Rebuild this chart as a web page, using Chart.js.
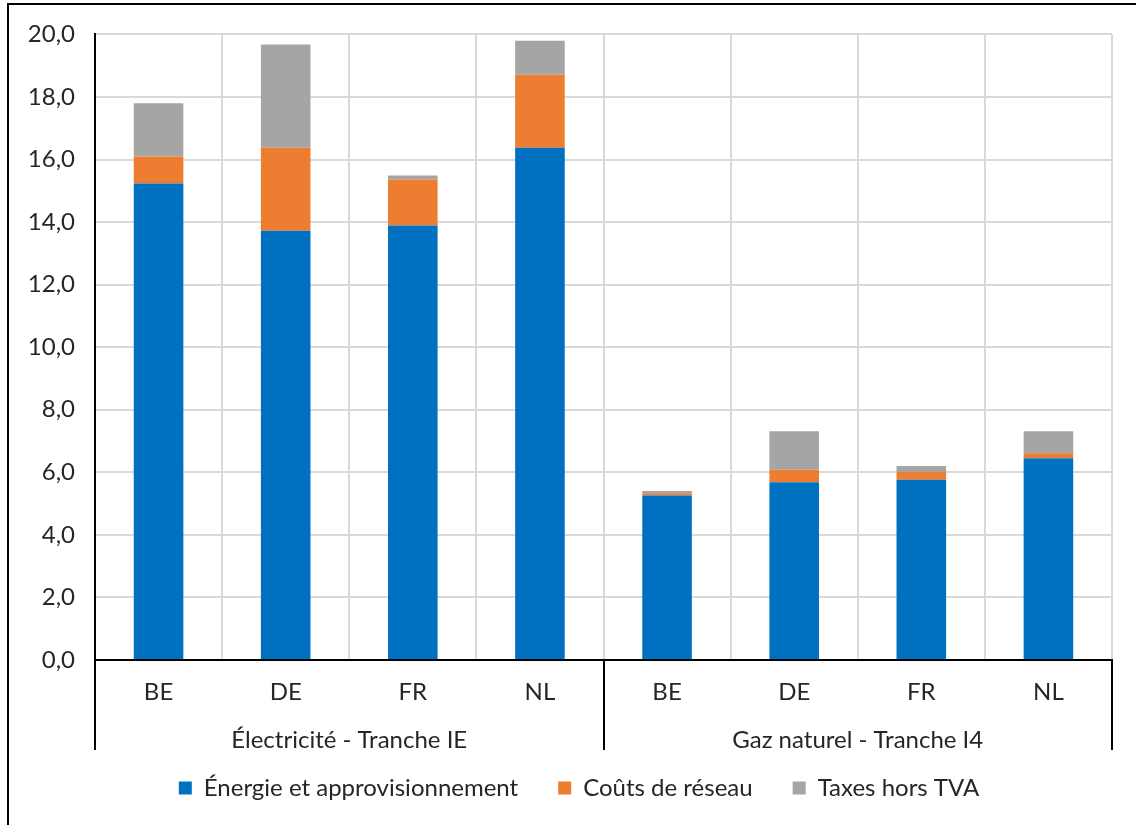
<!DOCTYPE html>
<html lang="fr">
<head>
<meta charset="utf-8">
<title>Composantes du prix – électricité et gaz naturel</title>
<script src="https://cdn.jsdelivr.net/npm/chart.js@4"></script>
<style>
  html, body { margin: 0; padding: 0; background: #fff; }
  #wrap { position: relative; width: 1136px; height: 825px; }
</style>
</head>
<body>
<div id="wrap"><canvas id="c" width="1136" height="825"></canvas></div>
<script>
// Pays par catégorie, et groupes de produits (4 pays chacun)
const countries = ['BE', 'DE', 'FR', 'NL', 'BE', 'DE', 'FR', 'NL'];
const groups = ['Électricité - Tranche IE', 'Gaz naturel - Tranche I4'];
const groupSizes = [4, 4];

// Composantes du prix (empilées)
const energie = [15.23, 13.72, 13.89, 16.38, 5.26, 5.68, 5.76, 6.45];
const reseau  = [0.87, 2.66, 1.47, 2.33, 0.07, 0.40, 0.25, 0.16];
const taxes   = [1.70, 3.30, 0.13, 1.09, 0.07, 1.23, 0.19, 0.70];

const seriesNames = ['Énergie et approvisionnement', 'Coûts de réseau', 'Taxes hors TVA'];
const seriesColors = ['#0070c0', '#ed7d31', '#a5a5a5'];

const FONT = 'Lato, "Open Sans", sans-serif';
const FONT_SIZE = 24;
const TEXT = '#262626';
const GRID = '#d9d9d9';

// Cadre extérieur (haut et gauche) du graphique
const framePlugin = {
  id: 'frame',
  beforeDraw(chart) {
    const ctx = chart.ctx;
    ctx.save();
    ctx.strokeStyle = '#000';
    ctx.lineWidth = 2;
    ctx.beginPath();
    ctx.moveTo(8, chart.height);
    ctx.lineTo(8, 4);
    ctx.lineTo(chart.width, 4);
    ctx.stroke();
    ctx.restore();
  }
};

// Place la légende juste sous l'axe des catégories, centrée sur la zone du graphique
const legendShiftPlugin = {
  id: 'legendShift',
  afterLayout(chart) {
    const l = chart.legend;
    if (l) {
      l.top -= 14; l.bottom -= 14;
      l.left += 23; l.right += 23;
    }
  }
};

// Deuxième niveau de l'axe des catégories : séparateurs et noms des groupes
const groupAxisPlugin = {
  id: 'groupAxis',
  afterDraw(chart) {
    const x = chart.scales.x;
    const area = chart.chartArea;
    const ctx = chart.ctx;
    const top = area.bottom;
    const bottom = area.bottom + 90;
    const bounds = [area.left];
    let idx = 0;
    groupSizes.forEach(n => {
      idx += n;
      if (idx < countries.length) {
        bounds.push((x.getPixelForValue(idx - 1) + x.getPixelForValue(idx)) / 2);
      }
    });
    bounds.push(area.right);
    ctx.save();
    ctx.strokeStyle = '#000';
    ctx.lineWidth = 2;
    bounds.forEach(b => {
      ctx.beginPath();
      ctx.moveTo(Math.round(b), top);
      ctx.lineTo(Math.round(b), bottom);
      ctx.stroke();
    });
    ctx.fillStyle = TEXT;
    ctx.font = FONT_SIZE + 'px ' + FONT;
    ctx.textAlign = 'center';
    ctx.textBaseline = 'middle';
    groups.forEach((g, i) => {
      ctx.fillText(g, (bounds[i] + bounds[i + 1]) / 2, area.bottom + 80);
    });
    ctx.restore();
  }
};

new Chart(document.getElementById('c'), {
  type: 'bar',
  data: {
    labels: countries,
    datasets: [energie, reseau, taxes].map((d, i) => ({
      label: seriesNames[i],
      data: d,
      backgroundColor: seriesColors[i],
      borderWidth: 0,
      barPercentage: 0.39,
      categoryPercentage: 1.0
    }))
  },
  options: {
    responsive: false,
    animation: false,
    layout: { padding: { left: 0, right: 24, top: 34, bottom: 1 } },
    plugins: {
      legend: {
        position: 'bottom',
        labels: {
          font: { family: FONT, size: FONT_SIZE },
          color: TEXT,
          boxWidth: 13,
          boxHeight: 13,
          padding: 40
        }
      },
      tooltip: { enabled: false }
    },
    scales: {
      x: {
        stacked: true,
        grid: { offset: true, color: GRID, lineWidth: 2, drawTicks: false },
        border: { color: '#000', width: 2 },
        ticks: { font: { family: FONT, size: FONT_SIZE }, color: TEXT, padding: 18 },
        afterFit(s) { s.height = 90; }
      },
      y: {
        stacked: true,
        min: 0,
        max: 20,
        grid: { color: GRID, lineWidth: 2, drawTicks: false },
        border: { color: '#000', width: 2 },
        ticks: {
          stepSize: 2,
          font: { family: FONT, size: FONT_SIZE },
          color: TEXT,
          padding: 20,
          callback: v => v.toFixed(1).replace('.', ',')
        },
        afterFit(s) { s.width = 95; }
      }
    }
  },
  plugins: [framePlugin, legendShiftPlugin, groupAxisPlugin]
});
</script>
</body>
</html>
